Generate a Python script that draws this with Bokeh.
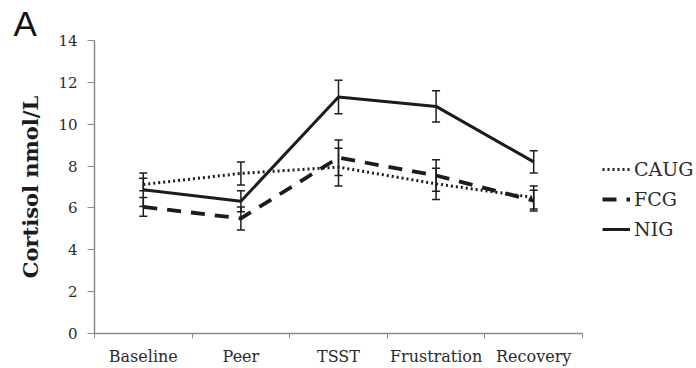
from bokeh.plotting import figure
from bokeh.models import (ColumnDataSource, Range1d, FixedTicker, Whisker, TeeHead,
                          Legend, LegendItem, Title)
from bokeh.embed import file_html
from bokeh.resources import INLINE

# ---- data ----
phases = ["Baseline", "Peer", "TSST", "Frustration", "Recovery"]
caug = [7.12, 7.65, 7.95, 7.15, 6.5]
caug_err = [0.3, 0.55, 0.9, 0.75, 0.55]
fcg = [6.05, 5.5, 8.4, 7.55, 6.35]
fcg_err = [0.45, 0.55, 0.85, 0.75, 0.5]
nig = [6.87, 6.32, 11.3, 10.85, 8.2]
nig_err = [0.8, 0.5, 0.8, 0.75, 0.53]
y_ticks = [0, 2, 4, 6, 8, 10, 12, 14]

xs = [i + 0.5 for i in range(len(phases))]

FONT = "DejaVu Serif"
AXIS_COL = "#8a8a8a"
TXT_COL = "#2b2b2b"
INK = "#1c1c1c"

W, H = 696, 368
LEFT, TOP, BOTTOM = 94, 40, 35
AXIS_PX = 488                      # drawn length of the x axis
FRAME_PX = W - LEFT                # frame reaches the right edge (legend lives inside)
x_end = len(phases) * FRAME_PX / AXIS_PX

p = figure(width=W, height=H, output_backend="svg", toolbar_location=None,
           x_range=Range1d(0, x_end), y_range=Range1d(0, 14),
           min_border_left=LEFT, min_border_right=0, min_border_top=TOP,
           min_border_bottom=BOTTOM)
p.outline_line_color = None
p.grid.grid_line_color = None
p.background_fill_color = "white"
p.border_fill_color = "white"

# x axis: category boundary ticks (minor), labels at centers
xa = p.xaxis[0]
xa.bounds = (0, len(phases))
xa.ticker = FixedTicker(ticks=xs, minor_ticks=list(range(len(phases) + 1)))
xa.major_label_overrides = {x: name for x, name in zip(xs, phases)}
xa.major_tick_line_color = None
xa.major_tick_out = 5
xa.major_tick_in = 0
xa.minor_tick_line_color = AXIS_COL
xa.minor_tick_out = 5
xa.minor_tick_in = 0
xa.axis_line_color = AXIS_COL
xa.axis_line_width = 1.5
xa.major_label_text_font = FONT
xa.major_label_text_font_size = "16px"
xa.major_label_text_color = TXT_COL
xa.major_label_standoff = 8

ya = p.yaxis[0]
ya.ticker = FixedTicker(ticks=y_ticks, minor_ticks=[])
ya.major_tick_out = 7
ya.major_tick_in = 0
ya.major_tick_line_color = AXIS_COL
ya.axis_line_color = AXIS_COL
ya.axis_line_width = 1.5
ya.major_label_text_font = FONT
ya.major_label_text_font_size = "15px"
ya.major_label_text_color = TXT_COL
ya.major_label_standoff = 10
ya.axis_label = "Cortisol nmol/L"
ya.axis_label_text_font = FONT
ya.axis_label_text_font_style = "bold"
ya.axis_label_text_font_size = "21px"
ya.axis_label_text_color = INK
ya.axis_label_standoff = 12

series = [
    ("CAUG", caug, caug_err, dict(line_dash="2 3", line_width=3)),
    ("FCG", fcg, fcg_err, dict(line_dash="14 10", line_width=3.8)),
    ("NIG", nig, nig_err, dict(line_dash="solid", line_width=3)),
]

items = []
for name, vals, errs, style in series:
    src = ColumnDataSource(dict(
        x=xs, y=vals,
        upper=[v + e for v, e in zip(vals, errs)],
        lower=[v - e for v, e in zip(vals, errs)],
    ))
    r = p.line("x", "y", source=src, line_color=INK, **style)
    w = Whisker(base="x", upper="upper", lower="lower", source=src,
                line_color=INK, line_width=1.5,
                upper_head=TeeHead(size=8, line_color=INK, line_width=1.5),
                lower_head=TeeHead(size=8, line_color=INK, line_width=1.5))
    p.add_layout(w)
    items.append(LegendItem(label=name, renderers=[r]))

legend = Legend(items=items, location=(508, 93), orientation="vertical",
                border_line_color=None, background_fill_alpha=0,
                padding=0, margin=0, spacing=8,
                glyph_width=28, glyph_height=20, label_height=20,
                label_standoff=4, label_text_font=FONT,
                label_text_font_size="19px", label_text_color=TXT_COL)
p.add_layout(legend, "center")

panel_label = Title(text="A", align="left", offset=-81, standoff=-5,
                    text_font="Liberation Sans", text_font_size="35px",
                    text_font_style="normal", text_color="#111111",
                    vertical_align="bottom")
p.add_layout(panel_label, "above")

open("out.html", "w").write(file_html(p, INLINE))
